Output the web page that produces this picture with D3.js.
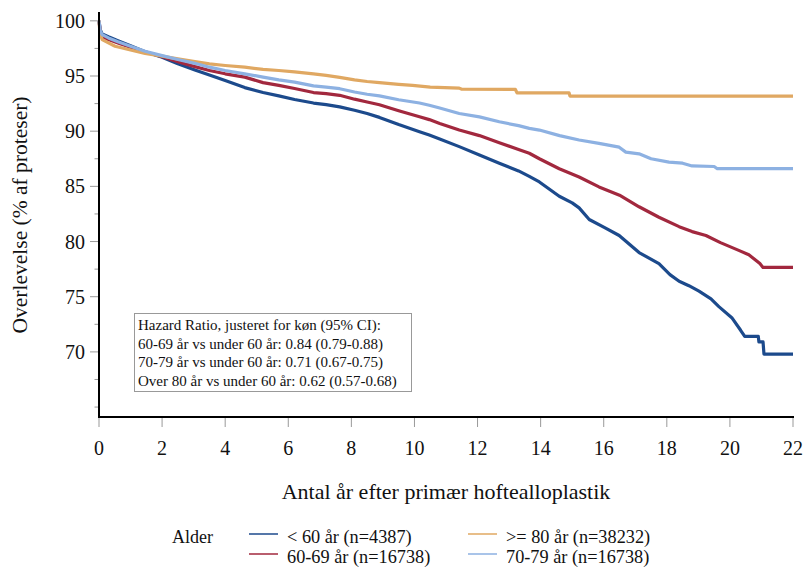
<!DOCTYPE html>
<html>
<head>
<meta charset="utf-8">
<script src="https://cdn.jsdelivr.net/npm/d3@7"></script>
<style>
  html, body { margin: 0; padding: 0; background: #fff; }
  svg { display: block; }
  svg text { font-family: 'Liberation Serif', 'Times New Roman', Tinos, 'DejaVu Serif', serif; }
</style>
</head>
<body>
<svg id="chart" width="806" height="567" font-family="Liberation Serif, Times New Roman, serif"></svg>
<script>
// Kaplan-Meier survival by age group: [years, survival %]
const under60 = [[0,100],[0.04,99.2],[0.1,98.8],[0.3,98.55],[0.6,98.2],[1.0,97.75],[1.46,97.2],[2.0,96.7],[2.5,96.1],[3.04,95.55],[3.5,95.1],[4.0,94.6],[4.62,93.95],[5.2,93.5],[5.7,93.2],[6.2,92.87],[6.8,92.55],[7.2,92.4],[7.63,92.2],[8.1,91.9],[8.5,91.6],[8.89,91.25],[9.5,90.6],[10.16,89.95],[10.47,89.65],[10.8,89.3],[11.42,88.6],[12.06,87.85],[12.69,87.1],[13.3,86.4],[13.64,85.9],[13.96,85.4],[14.59,84.1],[15.0,83.5],[15.22,83.05],[15.54,82.0],[16.0,81.3],[16.49,80.55],[17.12,79.0],[17.75,78.0],[18.1,77.0],[18.39,76.4],[18.7,76.0],[19.02,75.5],[19.4,74.8],[19.65,74.1],[20.06,73.1],[20.34,71.96],[20.47,71.4],[20.9,71.4],[20.92,70.9],[21.05,70.9],[21.08,69.8],[22,69.8]];
const age60to69 = [[0,100],[0.04,99.0],[0.1,98.6],[0.3,98.3],[0.6,98.0],[1.0,97.6],[1.46,97.2],[2.0,96.75],[2.5,96.3],[3.04,95.85],[3.5,95.5],[4.0,95.2],[4.62,94.9],[5.2,94.4],[5.7,94.15],[6.2,93.87],[6.8,93.5],[7.2,93.4],[7.63,93.25],[8.1,92.9],[8.5,92.65],[8.89,92.4],[9.5,91.85],[10.16,91.3],[10.47,91.05],[10.8,90.7],[11.42,90.1],[12.06,89.6],[12.69,88.95],[13.3,88.35],[13.64,88.0],[13.96,87.5],[14.59,86.6],[15.22,85.85],[15.85,84.95],[16.5,84.2],[17.12,83.15],[17.75,82.2],[18.39,81.35],[18.8,80.9],[19.24,80.55],[19.7,79.9],[20.28,79.2],[20.6,78.8],[20.82,78.3],[20.95,78.0],[21.05,77.65],[22,77.65]];
const age70to79 = [[0,100],[0.04,99.1],[0.1,98.75],[0.3,98.45],[0.6,98.1],[1.0,97.7],[1.46,97.25],[2.0,96.85],[2.5,96.5],[3.04,96.15],[3.5,95.8],[4.0,95.5],[4.62,95.2],[5.2,94.9],[5.7,94.65],[6.2,94.45],[6.8,94.1],[7.2,94.0],[7.63,93.85],[8.1,93.55],[8.5,93.35],[8.89,93.2],[9.5,92.85],[10.16,92.55],[10.47,92.35],[10.8,92.1],[11.42,91.6],[12.06,91.3],[12.69,90.85],[13.3,90.5],[13.64,90.25],[13.96,90.1],[14.6,89.6],[15.22,89.2],[15.85,88.9],[16.49,88.55],[16.7,88.1],[17.12,87.95],[17.5,87.5],[18.07,87.2],[18.5,87.1],[18.8,86.85],[19.5,86.8],[19.6,86.6],[22,86.6]];
const age80plus = [[0,100],[0.03,98.9],[0.1,98.3],[0.3,98.0],[0.51,97.7],[1.0,97.35],[1.46,97.05],[2.0,96.8],[2.5,96.55],[3.04,96.3],[3.5,96.1],[4.0,95.95],[4.62,95.8],[5.2,95.6],[5.7,95.5],[6.2,95.38],[6.8,95.2],[7.2,95.05],[7.63,94.88],[8.1,94.65],[8.5,94.5],[8.89,94.4],[9.5,94.25],[9.94,94.15],[10.5,94.0],[11.42,93.9],[11.5,93.8],[13.2,93.78],[13.25,93.48],[14.9,93.48],[14.93,93.18],[22,93.18]];

const seriesNames = ["< 60 år (n=4387)", "60-69 år (n=16738)", "70-79 år (n=16738)", ">= 80 år (n=38232)"];
const seriesColors = ["#1c4a8c", "#a2283e", "#8db1e2", "#e0a862"];
const seriesData = [under60, age60to69, age70to79, age80plus];

const xTicks = [0, 2, 4, 6, 8, 10, 12, 14, 16, 18, 20, 22];
const yTicksMajor = [70, 75, 80, 85, 90, 95, 100];
const yTicksAll = [65, 67.5, 70, 72.5, 75, 77.5, 80, 82.5, 85, 87.5, 90, 92.5, 95, 97.5, 100];

const hazardLines = [
  "Hazard Ratio, justeret for køn (95% CI):",
  "60-69 år vs under 60 år: 0.84 (0.79-0.88)",
  "70-79 år vs under 60 år: 0.71 (0.67-0.75)",
  "Over 80 år vs under 60 år: 0.62 (0.57-0.68)"
];

const FONT = "'Liberation Serif', 'Times New Roman', Tinos, serif";
const svg = d3.select("#chart");
const x = d3.scaleLinear().domain([0, 22]).range([99, 793]);
const y = d3.scaleLinear().domain([64.1, 100.8]).range([417, 12]);

// y ticks (minor + major)
svg.append("g").selectAll("line").data(yTicksAll).join("line")
  .attr("x1", d => yTicksMajor.includes(d) ? 90 : 94.5).attr("x2", 99)
  .attr("y1", d => y(d)).attr("y2", d => y(d))
  .attr("stroke", "#999").attr("stroke-width", 1);
svg.append("g").selectAll("text").data(yTicksMajor).join("text")
  .attr("x", 85).attr("y", d => y(d)).attr("dy", "0.35em")
  .attr("text-anchor", "end").attr("font-size", 20).attr("fill", "#111")
  .style("font-family", FONT)
  .text(d => d);

// x ticks
svg.append("g").selectAll("line").data(xTicks).join("line")
  .attr("x1", d => x(d)).attr("x2", d => x(d))
  .attr("y1", 418).attr("y2", 427)
  .attr("stroke", "#999").attr("stroke-width", 1);
svg.append("g").selectAll("text").data(xTicks).join("text")
  .attr("x", d => x(d)).attr("y", 455)
  .attr("text-anchor", "middle").attr("font-size", 20).attr("fill", "#111")
  .style("font-family", FONT)
  .text(d => d);

// annotation box
const box = svg.append("g");
box.append("rect").attr("x", 134.5).attr("y", 313.5).attr("width", 277).attr("height", 78)
  .attr("fill", "#fff").attr("stroke", "#999").attr("stroke-width", 1);
box.selectAll("text").data(hazardLines).join("text")
  .attr("x", 138).attr("y", (d, i) => 330 + i * 18.5)
  .attr("font-size", 15).attr("fill", "#111").style("font-family", FONT).text(d => d);

// survival curves
const line = d3.line().x(d => x(d[0])).y(d => y(d[1]));
const drawOrder = [0, 1, 3, 2];
svg.append("g").selectAll("path").data(drawOrder).join("path")
  .attr("d", i => line(seriesData[i]))
  .attr("fill", "none").attr("stroke", i => seriesColors[i])
  .attr("stroke-width", 3.2).attr("stroke-linejoin", "round");

// axis lines
svg.append("line").attr("x1", 99).attr("x2", 99).attr("y1", 12).attr("y2", 418)
  .attr("stroke", "#000").attr("stroke-width", 2);
svg.append("line").attr("x1", 98).attr("x2", 794).attr("y1", 417).attr("y2", 417)
  .attr("stroke", "#000").attr("stroke-width", 2);

// axis titles
svg.append("text").attr("x", 446).attr("y", 499).attr("text-anchor", "middle")
  .attr("font-size", 22).attr("fill", "#111").style("font-family", FONT)
  .text("Antal år efter primær hoftealloplastik");
svg.append("text").attr("transform", "translate(27,215) rotate(-90)")
  .attr("text-anchor", "middle").attr("font-size", 21.5).attr("fill", "#111")
  .style("font-family", FONT)
  .text("Overlevelse (% af proteser)");

// legend
const legend = svg.append("g");
legend.append("text").attr("x", 172).attr("y", 543).attr("font-size", 18).attr("fill", "#111")
  .style("font-family", FONT).text("Alder");
const legendPos = [[249, 537], [249, 557], [468, 557], [468, 537]];
seriesNames.forEach((name, i) => {
  const [lx, ly] = legendPos[i];
  legend.append("line").attr("x1", lx).attr("x2", lx + 29).attr("y1", ly - 3).attr("y2", ly - 3)
    .attr("stroke", seriesColors[i]).attr("stroke-width", 1.5);
  legend.append("text").attr("x", lx + 38).attr("y", ly + 6)
    .attr("font-size", 18.3).attr("fill", "#111").style("font-family", FONT).text(name);
});
</script>
</body>
</html>
